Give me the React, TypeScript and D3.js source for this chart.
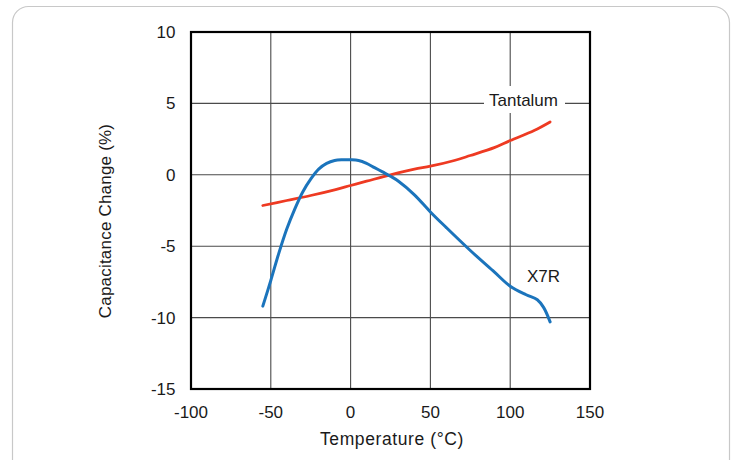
import React from "react";
import * as d3 from "d3";

const xTicks = [-100, -50, 0, 50, 100, 150];
const yTicks = [-15, -10, -5, 0, 5, 10];

const tantalumTemp = [-55, -40, -25, -10, 0, 10, 25, 40, 50, 65, 75, 90, 100, 115, 125];
const tantalumChange = [-2.15, -1.8, -1.45, -1.05, -0.75, -0.45, 0, 0.4, 0.6, 1.0, 1.35, 1.9, 2.4, 3.1, 3.7];

const x7rTemp = [-55, -50, -45, -40, -35, -30, -25, -20, -15, -10, -5, 0, 5, 10, 15, 20, 25, 30, 40, 50, 60, 75, 90, 100, 110, 117, 121, 125];
const x7rChange = [-9.2, -7.4, -5.5, -3.8, -2.4, -1.2, -0.3, 0.4, 0.8, 1.0, 1.05, 1.05, 1.0, 0.8, 0.5, 0.2, -0.1, -0.45, -1.4, -2.6, -3.7, -5.3, -6.8, -7.8, -8.4, -8.75, -9.3, -10.3];

const W = 734;
const H = 460;
const plot = { left: 191, right: 590, top: 32, bottom: 389 };

export default function App() {
  const x = d3.scaleLinear().domain([-100, 150]).range([plot.left, plot.right]);
  const y = d3.scaleLinear().domain([-15, 10]).range([plot.bottom, plot.top]);
  const line = d3
    .line<[number, number]>()
    .x((d) => x(d[0]))
    .y((d) => y(d[1]))
    .curve(d3.curveCatmullRom.alpha(0.5));
  const tan = tantalumTemp.map((t, i) => [t, tantalumChange[i]] as [number, number]);
  const x7r = x7rTemp.map((t, i) => [t, x7rChange[i]] as [number, number]);
  const font = "'Liberation Sans', Arial, sans-serif";
  const grid = "#4a4a4a";
  const txt = "#1a1a1a";
  return (
    <svg
      width={W}
      height={H}
      style={{ position: "absolute", left: 0, top: 0, background: "#fff" }}
      fontFamily={font}
    >
      <rect x={12.5} y={6.5} width={717} height={470} rx={16} fill="#fff" stroke="#c8c8c8" strokeWidth={1.2} />
      {xTicks.slice(1, -1).map((t) => (
        <line key={"gx" + t} x1={x(t)} x2={x(t)} y1={plot.top} y2={plot.bottom} stroke={grid} strokeWidth={1.1} />
      ))}
      {yTicks.slice(1, -1).map((t) => (
        <line key={"gy" + t} x1={plot.left} x2={plot.right} y1={y(t)} y2={y(t)} stroke={grid} strokeWidth={1.1} />
      ))}
      <rect x={484} y={86} width={81} height={27} fill="#fff" />
      <text x={523.5} y={106} fontSize={17} textAnchor="middle" fill={txt}>Tantalum</text>
      <path d={line(tan) || ""} fill="none" stroke="#ee3a22" strokeWidth={2.8} strokeLinecap="round" />
      <path d={line(x7r) || ""} fill="none" stroke="#1b74bc" strokeWidth={3} strokeLinecap="round" />
      <text x={543.5} y={282} fontSize={17} textAnchor="middle" fill={txt}>X7R</text>
      <rect x={plot.left} y={plot.top} width={plot.right - plot.left} height={plot.bottom - plot.top} fill="none" stroke="#000" strokeWidth={2.2} />
      {yTicks.map((t) => (
        <text key={"ty" + t} x={175.5} y={y(t) + 6} fontSize={17} textAnchor="end" fill={txt}>{t}</text>
      ))}
      {xTicks.map((t) => (
        <text key={"tx" + t} x={x(t)} y={418} fontSize={17} textAnchor="middle" fill={txt}>{t}</text>
      ))}
      <text x={392} y={445} fontSize={17.5} letterSpacing={0.6} textAnchor="middle" fill={txt}>Temperature (°C)</text>
      <text transform={`translate(111,221) rotate(-90)`} fontSize={17} letterSpacing={0.2} textAnchor="middle" fill={txt}>Capacitance Change (%)</text>
    </svg>
  );
}
